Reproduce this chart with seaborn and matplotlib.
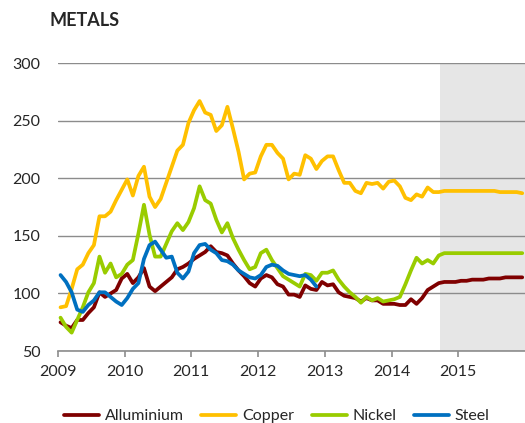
import pandas as pd
import numpy as np
import matplotlib
matplotlib.use("Agg")
import matplotlib.pyplot as plt
import seaborn as sns

# monthly index values, Jan 2009 - Dec 2015 (forecast shaded from late 2014)
aluminium = [75, 72, 70, 77, 77, 83, 88, 101, 97, 100, 103, 113,
             117, 109, 114, 122, 106, 102, 106, 110, 114, 121, 123, 126,
             130, 133, 136, 141, 136, 135, 133, 126, 120, 115, 109, 106,
             113, 116, 114, 108, 106, 99, 99, 97, 107, 104, 103, 110,
             107, 108, 101, 98, 97, 96, 93, 96, 94, 94, 91, 91,
             91, 90, 90, 95, 91, 96, 103, 106, 109, 110, 110, 110,
             111, 111, 112, 112, 112, 113, 113, 113, 114, 114, 114, 114]
copper = [88, 89, 104, 121, 125, 135, 142, 167, 167, 171, 181, 190,
          199, 185, 202, 210, 184, 175, 182, 196, 210, 224, 229, 248,
          259, 267, 257, 255, 241, 246, 262, 243, 223, 199, 204, 205,
          219, 229, 229, 222, 217, 199, 204, 203, 220, 217, 208, 215,
          219, 219, 207, 196, 196, 189, 187, 196, 195, 196, 191, 197,
          198, 193, 183, 181, 186, 184, 192, 188, 188, 189, 189, 189,
          189, 189, 189, 189, 189, 189, 189, 188, 188, 188, 188, 187]
nickel = [79, 71, 66, 77, 88, 101, 109, 132, 118, 126, 114, 117,
          125, 129, 152, 177, 151, 132, 132, 143, 154, 161, 155, 162,
          174, 193, 181, 178, 164, 153, 161, 148, 138, 129, 121, 123,
          135, 138, 129, 122, 115, 112, 109, 106, 117, 116, 111, 118,
          118, 120, 112, 106, 101, 97, 92, 97, 94, 96, 93, 94,
          95, 97, 108, 120, 131, 126, 129, 126, 133, 135, 135, 135,
          135, 135, 135, 135, 135, 135, 135, 135, 135, 135, 135, 135]
steel = [116, 110, 101, 86, 84, 90, 94, 101, 101, 97, 93, 90,
         96, 104, 109, 130, 142, 145, 138, 131, 132, 118, 113, 119,
         135, 142, 143, 138, 135, 129, 128, 125, 120, 117, 114, 113,
         116, 123, 125, 124, 120, 117, 116, 115, 116, 112, 106]

months = pd.date_range("2009-01-01", "2015-12-01", freq="MS")
year_frac = months.year + (months.month - 0.5) / 12
forecast_start = 2014.72

series = {"Alluminium": aluminium, "Copper": copper, "Nickel": nickel, "Steel": steel}
frames = []
for name, vals in series.items():
    frames.append(pd.DataFrame({"date": year_frac[:len(vals)], "value": vals, "metal": name}))
df = pd.concat(frames, ignore_index=True)

colors = {"Alluminium": "#7F0000", "Copper": "#FFC000", "Nickel": "#99CC00", "Steel": "#0070C0"}

sns.set_style("white")
plt.rcParams["font.family"] = ["Lato", "DejaVu Sans"]

fig = plt.figure(figsize=(5.25, 4.23), dpi=100)
ax = fig.add_axes([0.110, 0.170, 0.890, 0.681])

ax.axvspan(forecast_start, 2016, color="#E6E6E6", lw=0, zorder=0)
sns.lineplot(data=df, x="date", y="value", hue="metal", palette=colors,
             linewidth=2.7, ax=ax)

ax.set_xlim(2009, 2016)
ax.set_ylim(50, 300)
ax.set_xticks(range(2009, 2016))
ax.set_yticks(range(50, 301, 50))
ax.set_xlabel("")
ax.set_ylabel("")
ax.set_axisbelow(True)
ax.yaxis.grid(True, color="#8C8C8C", linewidth=1)
ax.xaxis.grid(False)
for s in ["left", "top", "right"]:
    ax.spines[s].set_visible(False)
ax.spines["bottom"].set_color("#8C8C8C")
ax.spines["bottom"].set_linewidth(1.2)
ax.tick_params(axis="x", bottom=True, length=4, width=1.2, color="#8C8C8C",
               labelsize=11.5, pad=6)
ax.tick_params(axis="y", left=False, labelsize=11.5, pad=9)

handles, labels = ax.get_legend_handles_labels()
ax.get_legend().remove()
fig.legend(handles, labels, loc="center", bbox_to_anchor=(0.527, 0.016), ncol=4,
           frameon=False, fontsize=11.5, handlelength=2.2, handletextpad=0.35,
           columnspacing=1.1)

fig.text(0.095, 0.951, "METALS", fontsize=13, fontweight="bold", va="center", ha="left")

fig.savefig("out.png", dpi=100)
